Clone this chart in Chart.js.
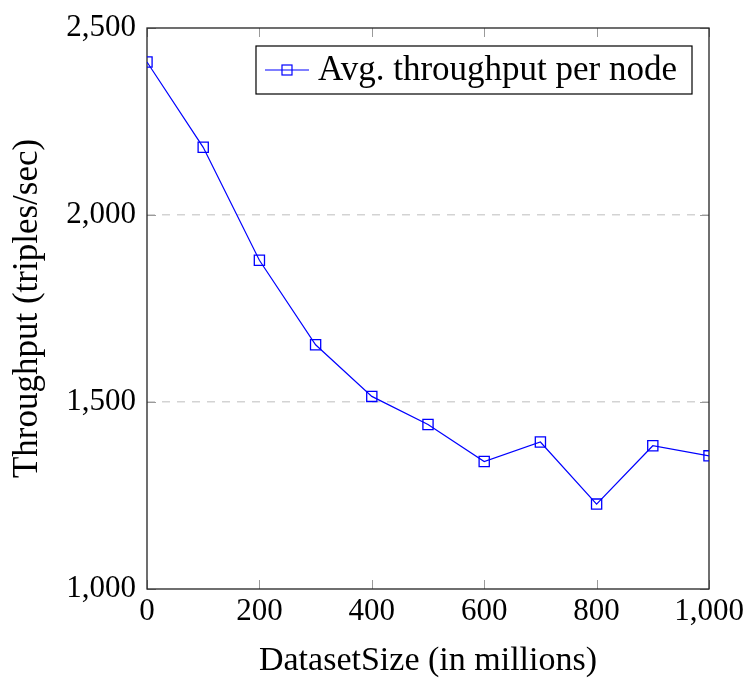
<!DOCTYPE html>
<html>
<head>
<meta charset="utf-8">
<script src="https://cdn.jsdelivr.net/npm/chart.js@4.4.1/dist/chart.umd.min.js"></script>
<style>
  html, body { margin: 0; padding: 0; background: #fff; }
</style>
</head>
<body>
<canvas id="throughputChart" width="745" height="678"></canvas>
<script>
// data
const datasetSizes = [0, 100, 200, 300, 400, 500, 600, 700, 800, 900, 1000];
const throughput = [2409, 2181, 1879, 1653, 1515, 1440, 1341, 1393, 1227, 1383, 1356];
const xTicks = [0, 200, 400, 600, 800, 1000];
const yTicks = [1000, 1500, 2000, 2500];
const seriesLabel = 'Avg. throughput per node';

const serif = "'Liberation Serif', 'DejaVu Serif', serif";
const blue = '#0000ff';

// pgfplots style box + inward tick marks
const framePlugin = {
    id: 'frame',
    beforeDatasetsDraw(chart) {
        const {ctx, chartArea: a, scales} = chart;
        ctx.save();
        ctx.strokeStyle = '#9a9a9a';
        ctx.lineWidth = 1;
        const len = 9;
        xTicks.forEach(v => {
            const x = Math.round(scales.x.getPixelForValue(v)) + 0.5;
            ctx.beginPath();
            ctx.moveTo(x, a.bottom); ctx.lineTo(x, a.bottom - len);
            ctx.moveTo(x, a.top); ctx.lineTo(x, a.top + len);
            ctx.stroke();
        });
        yTicks.forEach(v => {
            const y = Math.round(scales.y.getPixelForValue(v)) + 0.5;
            ctx.beginPath();
            ctx.moveTo(a.left, y); ctx.lineTo(a.left + len, y);
            ctx.moveTo(a.right, y); ctx.lineTo(a.right - len, y);
            ctx.stroke();
        });
        ctx.strokeStyle = '#222';
        ctx.lineWidth = 1.3;
        ctx.strokeRect(a.left, a.top, a.right - a.left, a.bottom - a.top);
        ctx.restore();
    }
};

const boxLegend = {
    id: 'boxLegend',
    afterDraw(chart) {
        const {ctx, chartArea: a} = chart;
        ctx.save();
        ctx.font = '35px ' + serif;
        const tw = ctx.measureText(seriesLabel).width;
        const w = 62 + tw + 15;
        const h = 48;
        const right = a.right - 17;
        const left = right - w;
        const top = a.top + 18;
        const mid = top + h / 2;
        ctx.fillStyle = '#fff';
        ctx.fillRect(left, top, w, h);
        ctx.strokeStyle = '#000';
        ctx.lineWidth = 1.2;
        ctx.strokeRect(left, top, w, h);
        ctx.strokeStyle = blue;
        ctx.lineWidth = 1.2;
        ctx.beginPath();
        ctx.moveTo(left + 9, mid); ctx.lineTo(left + 53, mid);
        ctx.stroke();
        ctx.strokeRect(left + 31 - 5, mid - 5, 10, 10);
        ctx.fillStyle = '#000';
        ctx.textBaseline = 'middle';
        ctx.fillText(seriesLabel, left + 62, mid + 1);
        ctx.restore();
    }
};

new Chart(document.getElementById('throughputChart'), {
    type: 'line',
    data: {
        datasets: [{
            label: seriesLabel,
            data: datasetSizes.map((x, i) => ({x: x, y: throughput[i]})),
            borderColor: blue,
            borderWidth: 1.2,
            pointStyle: 'rect',
            pointRadius: 7.2,
            pointBorderWidth: 1.3,
            pointBorderColor: blue,
            pointBackgroundColor: 'rgba(0,0,0,0)',
            tension: 0
        }]
    },
    options: {
        responsive: false,
        animation: false,
        layout: { padding: { top: 28, right: 36, left: 0, bottom: 0 } },
        plugins: {
            legend: { display: false },
            tooltip: { enabled: false }
        },
        scales: {
            x: {
                type: 'linear',
                min: 0,
                max: 1000,
                afterBuildTicks: s => { s.ticks = xTicks.map(v => ({value: v})); },
                afterFit: s => { s.height = 89; s.paddingRight = 0; },
                grid: { display: false, drawTicks: false },
                border: { display: false },
                ticks: {
                    color: '#000',
                    padding: 7,
                    maxRotation: 0,
                    font: { family: serif, size: 31, lineHeight: 1 },
                    callback: v => v.toLocaleString('en-US')
                },
                title: {
                    display: true,
                    text: 'DatasetSize (in millions)',
                    color: '#000',
                    padding: 0,
                    font: { family: serif, size: 34, lineHeight: 1 }
                }
            },
            y: {
                type: 'linear',
                min: 1000,
                max: 2500,
                afterBuildTicks: s => { s.ticks = yTicks.map(v => ({value: v})); },
                afterFit: s => { s.width = 147; },
                grid: {
                    drawTicks: false,
                    lineWidth: 1.6,
                    color: c => (c.tick && (c.tick.value === 1500 || c.tick.value === 2000)) ? '#d3d3d3' : 'rgba(0,0,0,0)'
                },
                border: { display: false, dash: [8, 7] },
                ticks: {
                    color: '#000',
                    padding: 11,
                    font: { family: serif, size: 31, lineHeight: 1 },
                    callback: v => v.toLocaleString('en-US')
                },
                title: {
                    display: true,
                    text: 'Throughput (triples/sec)',
                    color: '#000',
                    padding: { top: 10, bottom: 0 },
                    font: { family: serif, size: 35, lineHeight: 1 }
                }
            }
        }
    },
    plugins: [framePlugin, boxLegend]
});
</script>
</body>
</html>
